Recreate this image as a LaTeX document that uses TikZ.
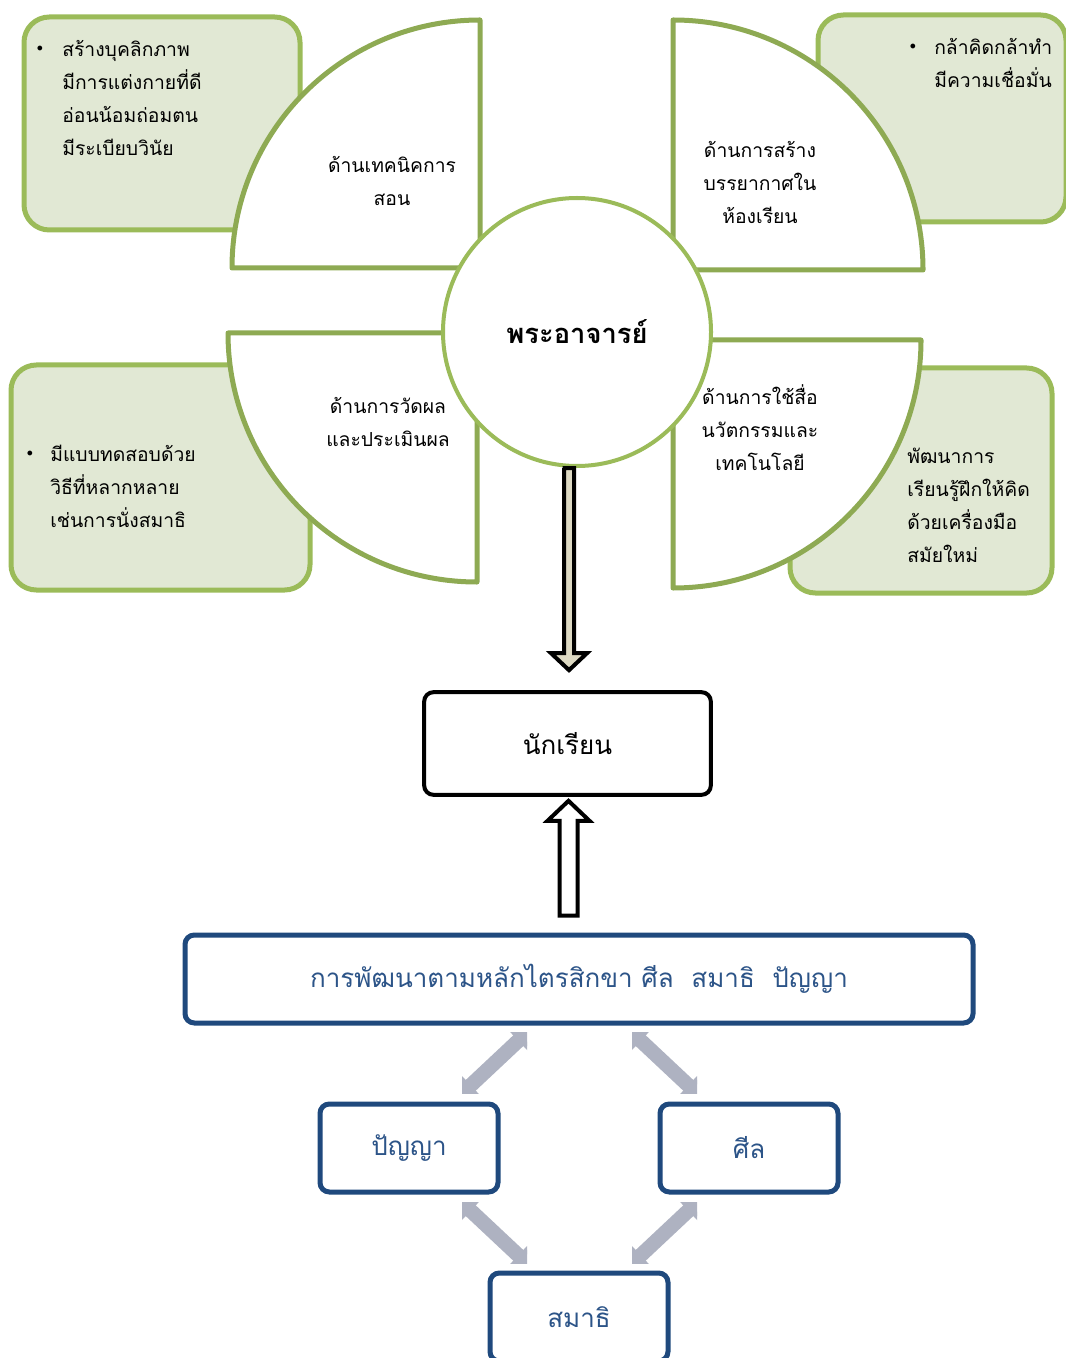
\documentclass[tikz,border=0pt]{standalone}
\usepackage{fontspec}
\setmainfont{Loma}[Script=Thai]
\usetikzlibrary{calc,arrows.meta}

\definecolor{leafline}{HTML}{8EAA53}
\definecolor{ringline}{HTML}{9BBB59}
\definecolor{leaffill}{HTML}{E1E8D4}
\definecolor{navyline}{HTML}{1F497D}
\definecolor{navytext}{HTML}{2C5488}
\definecolor{greyarrow}{HTML}{AEB2C1}
\definecolor{sandfill}{HTML}{DDD9C3}

\newcommand{\bodysize}{\fontsize{14.5}{24.75}\selectfont}
\newcommand{\bigsize}{\fontsize{19.5}{22}\selectfont}

\tikzset{
  notebox/.style={draw=ringline, fill=leaffill, line width=3.75pt, rounded corners=19pt},
  leaf/.style={draw=leafline, fill=white, line width=3.75pt, line join=round},
  leaftext/.style={align=center, font=\bodysize, inner sep=0pt},
  notetext/.style={align=left, font=\bodysize, inner sep=0pt, anchor=west},
  dot/.style={inner sep=0pt, font=\small},
  blockarrow/.style={draw=black, line width=3pt, line join=miter},
  stepbox/.style={draw=navyline, line width=3.75pt, rounded corners=7pt, fill=white,
    minimum width=133.5pt, minimum height=66pt, font=\bigsize, text=navytext},
  linkline/.style={greyarrow, line width=11pt,
    {Triangle[length=17pt, width=32pt]}-{Triangle[length=17pt, width=32pt]}},
}

% grey two-way arrow, cut to the square between its ends
\newcommand{\linkarrow}[2]{%
  \begin{scope}
    \clip (#1) rectangle (#2);
    \draw[linkline] ($(#1)!-0.12!(#2)$) -- ($(#2)!-0.12!(#1)$);
  \end{scope}}

\begin{document}
\begin{tikzpicture}[x=0.75pt, y=-0.75pt]
\useasboundingbox (0,0) rectangle (1065,1358);

% notes behind the four quarters
\draw[notebox] (24,17) rectangle (300,230);
\draw[notebox] (818,15) rectangle (1066,222);
\draw[notebox] (11,365) rectangle (310,590);
\draw[notebox] (790,368) rectangle (1052,593);

% four quarters
\draw[leaf] (480,268) -- (480,20) arc[start angle=270, end angle=180, radius=248] -- cycle;
\draw[leaf] (673,270) -- (673,20) arc[start angle=270, end angle=360, radius=250] -- cycle;
\draw[leaf] (477,333) -- (228,333) arc[start angle=180, end angle=90, radius=249] -- cycle;
\draw[leaf] (673,340) -- (921,340) arc[start angle=0, end angle=90, radius=248] -- cycle;

\node[leaftext] (tech) at (392,181) {ด้านเทคนิคการ\\สอน};
\node[leaftext] (mood) at (760,182) {ด้านการสร้าง\\บรรยากาศใน\\ห้องเรียน};
\node[leaftext] (eval) at (388,422) {ด้านการวัดผล\\และประเมินผล};
\node[leaftext] (media) at (760,428) {ด้านการใช้สื่อ\\นวัตกรรมและ\\เทคโนโลยี};

\node[dot] (b1) at (40,49) {$\bullet$};
\node[notetext] (note1) at (62,98) {สร้างบุคลิกภาพ\\มีการแต่งกายที่ดี\\อ่อนน้อมถ่อมตน\\มีระเบียบวินัย};
\node[dot] (b2) at (913,47) {$\bullet$};
\node[notetext] (note2) at (934,63) {กล้าคิดกล้าทำ\\มีความเชื่อมั่น};
\node[dot] (b3) at (30,454) {$\bullet$};
\node[notetext] (note3) at (50,486) {มีแบบทดสอบด้วย\\วิธีที่หลากหลาย\\เช่นการนั่งสมาธิ};
\node[notetext] (note4) at (907,505) {พัฒนาการ\\เรียนรู้ฝึกให้คิด\\ด้วยเครื่องมือ\\สมัยใหม่};

% centre
\node[circle, draw=ringline, fill=white, line width=3pt, minimum size=201pt,
  font=\fontsize{20.5}{22}\selectfont\bfseries] (guru) at (577,332) {พระอาจารย์};

\node[draw=black, line width=3pt, rounded corners=7pt, minimum width=215pt,
  minimum height=77pt, font=\bigsize] (student) at (567.5,743.5) {นักเรียน};

\node[stepbox, minimum width=591pt] (track) at (579,979)
  {การพัฒนาตามหลักไตรสิกขา ศีล\ \ สมาธิ\ \ ปัญญา};
\node[stepbox] (panya) at (409,1148) {ปัญญา};
\node[stepbox] (sila) at (749,1148) {ศีล};
\node[stepbox] (samathi) at (579,1317) {สมาธิ};

% block arrows
\coordinate (dtop) at (student.north |- guru.south);
\coordinate (dtip) at ($(student.north)+(1.5,-20)$);
\draw[blockarrow, fill=sandfill] ($(dtop)+(-5,0)$) -- ($(dtip |- dtop)+(-5,0)$)
  -- ($(dtip)+(-5,-17)$) -- ($(dtip)+(-18,-17)$) -- (dtip)
  -- ($(dtip)+(18,-17)$) -- ($(dtip)+(5,-17)$) -- ($(dtip |- dtop)+(5,0)$) -- cycle;

\coordinate (utip) at ($(student.south)+(1,4)$);
\coordinate (ubot) at ($(utip |- track.north)+(0,-17)$);
\draw[blockarrow, fill=white] (utip) -- ($(utip)+(21,20)$) -- ($(utip)+(9,20)$)
  -- ($(ubot)+(9,0)$) -- ($(ubot)+(-9,0)$) -- ($(utip)+(-9,20)$)
  -- ($(utip)+(-21,20)$) -- cycle;

% grey links
\coordinate (l1a) at ($(track.south)+(-52,7)$);
\coordinate (l1b) at ($(panya.north)+(53,-8)$);
\coordinate (l2a) at ($(track.south)+(53,7)$);
\coordinate (l2b) at ($(sila.north)+(-52,-8)$);
\coordinate (l3a) at ($(panya.south)+(53,8)$);
\coordinate (l3b) at ($(samathi.north)+(-52,-7)$);
\coordinate (l4a) at ($(sila.south)+(-52,8)$);
\coordinate (l4b) at ($(samathi.north)+(53,-7)$);
\linkarrow{l1a}{l1b}
\linkarrow{l2a}{l2b}
\linkarrow{l3a}{l3b}
\linkarrow{l4a}{l4b}
\end{tikzpicture}
\end{document}
